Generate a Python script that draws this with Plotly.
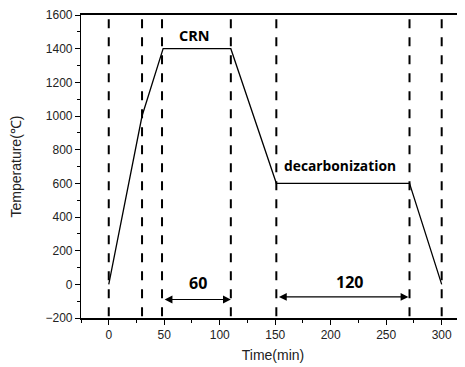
import plotly.graph_objects as go

time_min = [0, 30, 49, 110, 151, 271, 300]
temp_c = [0, 1000, 1400, 1400, 600, 600, 0]
guide_times = [0, 30, 48, 110, 151, 271, 300]
stage_labels = ["CRN", "decarbonization"]
stage_label_x = [77, 208]
stage_label_y = [1478, 708]
dur_labels = ["60", "120"]
dur_start = [49, 152]
dur_end = [110, 270]
dur_arrow_y = [-90, -75]
dur_label_x = [80, 217]
dur_label_y = [8, 12]

fig = go.Figure()
fig.add_trace(go.Scatter(x=time_min, y=temp_c, mode="lines",
                         line=dict(color="black", width=1.3), showlegend=False))

for t in guide_times:
    fig.add_shape(type="line", x0=t, x1=t, y0=-190, y1=1590, xref="x", yref="y",
                  line=dict(color="black", width=2, dash="dash"))

for txt, x, y, sz in zip(stage_labels, stage_label_x, stage_label_y, [14.5, 13.8]):
    fig.add_annotation(x=x, y=y, text=f"<b>{txt}</b>", showarrow=False,
                       font=dict(family="Open Sans", size=sz, color="black"))

for txt, x, y in zip(dur_labels, dur_label_x, dur_label_y):
    fig.add_annotation(x=x, y=y, text=f"<b>{txt}</b>", showarrow=False,
                       font=dict(family="Open Sans", size=16, color="black"))

for s, e, y in zip(dur_start, dur_end, dur_arrow_y):
    fig.add_annotation(x=e, y=y, ax=s, ay=y, xref="x", yref="y", axref="x", ayref="y",
                       text="", showarrow=True, arrowhead=2, startarrowhead=2,
                       arrowside="end+start", arrowsize=1.3, arrowwidth=1.2,
                       arrowcolor="black")

fig.update_layout(
    width=457, height=359,
    margin=dict(l=73, r=0, t=5, b=49),
    plot_bgcolor="white", paper_bgcolor="white",
    font=dict(family="Liberation Sans, Arial", size=12, color="#222"),
    xaxis=dict(range=[-25, 321], tickvals=[0, 50, 100, 150, 200, 250, 300],
               ticks="outside", ticklen=5, tickwidth=1, tickcolor="black",
               minor=dict(ticks="outside", ticklen=3, dtick=25, tick0=0, tickcolor="black"),
               showline=True, linecolor="black", linewidth=1.5, mirror=True,
               showgrid=False, zeroline=False, ticklabeloverflow="allow",
               title=dict(text="Time(min)", font=dict(size=14), standoff=9)),
    yaxis=dict(range=[-200, 1600], dtick=200,
               ticks="outside", ticklen=5, tickwidth=1, tickcolor="black",
               minor=dict(ticks="outside", ticklen=3, dtick=100, tickcolor="black"),
               showline=True, linecolor="black", linewidth=1.2,
               showgrid=False, zeroline=False, ticklabeloverflow="allow",
               title=dict(text="Temperature(℃)", font=dict(size=14), standoff=20)),
)

fig.write_html("out.html")
